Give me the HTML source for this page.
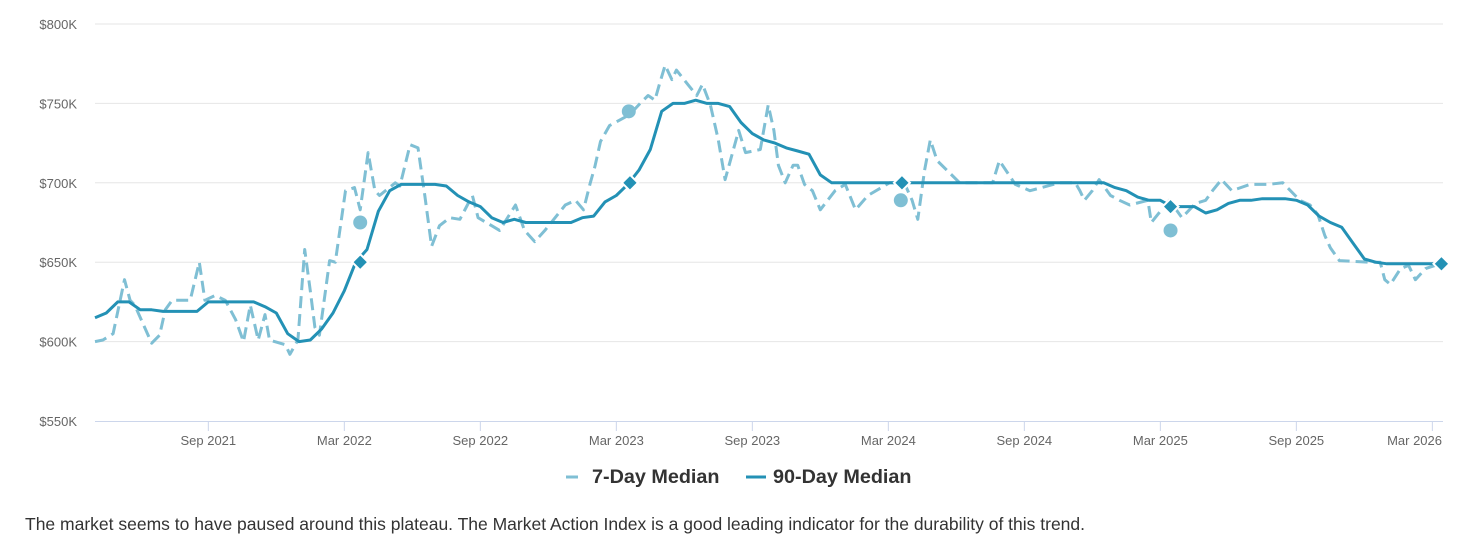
<!DOCTYPE html>
<html><head><meta charset="utf-8">
<style>
html,body{margin:0;padding:0;background:#fff;width:1482px;height:547px;overflow:hidden;font-family:"Liberation Sans",Arial,sans-serif;}
#foot{position:absolute;left:25px;top:514px;font-size:17.5px;color:#333;white-space:nowrap;}
</style></head>
<body>
<svg id="chart" width="1482" height="505" style="position:absolute;left:0;top:0"></svg>
<div id="foot">The market seems to have paused around this plateau. The Market Action Index is a good leading indicator for the durability of this trend.</div>
<script>
// months since Apr 2021
const yTicks=[550,600,650,700,750,800];
const xTickLabels=["Sep 2021","Mar 2022","Sep 2022","Mar 2023","Sep 2023","Mar 2024","Sep 2024","Mar 2025","Sep 2025","Mar 2026"];
const xTickMonths=[5,11,17,23,29,35,41,47,53,59];
const d90Values=[615,618,625,625,620,620,619,619,619,619,625,625,625,625,625,622,618,605,600,601,608,618,632,650,658,682,695,699,699,699,699,698,692,688,685,678,675,677,675,675,675,675,675,678,679,688,692,699,708,721,745,750,750,752,750,750,748,738,731,727,725,722,720,718,705,700,700,700,700,700,700,700,700,700,700,700,700,700,700,700,700,700,700,700,700,700,700,700,700,700,697,695,691,689,689,685,685,685,681,683,687,689,689,690,690,690,689,686,679,675,672,662,652,650,649,649,649,649,649,649];
const d7Months=[0,0.35,0.8,1.3,1.55,1.75,2.5,2.85,3.1,3.4,4.2,4.6,4.85,5.3,5.75,6.2,6.55,6.85,7.2,7.5,7.7,8.4,8.6,8.95,9.25,9.5,9.7,9.9,10.35,10.6,11.05,11.45,11.7,12.05,12.35,12.55,13.25,13.45,13.9,14.25,14.55,14.85,15.2,15.65,16.1,16.65,16.9,17.5,17.85,18.55,18.95,19.4,19.85,20.75,21.2,21.55,21.85,22.05,22.3,22.7,23.6,24.05,24.4,24.7,24.9,25.15,25.45,25.65,26.15,26.55,26.8,27.15,27.5,27.8,28.4,28.7,29.35,29.7,29.95,30.15,30.45,30.8,31.0,31.3,31.65,32.0,32.65,33.1,33.55,34.1,35.05,35.7,36.05,36.3,36.6,36.85,37.15,38.15,39.25,39.6,39.9,40.6,41.25,42.55,43.25,43.45,43.65,44.0,44.3,44.8,45.2,45.65,46.45,46.6,47.05,47.4,47.95,48.55,49.0,49.3,49.7,50.15,50.95,51.75,52.4,53.15,53.6,53.95,54.25,54.5,54.9,56.25,56.7,56.9,57.15,57.6,57.95,58.25,58.7,59.35];
const d7Values=[600,601,605,639,626,623,599,604,620,626,626,650,626,629,626,614,600,623,601,617,601,598,592,601,658,632,609,604,651,650,695,697,683,719,695,692,700,698,724,722,692,660,673,678,677,692,678,673,670,686,670,663,670,686,689,683,700,710,726,736,743,750,755,752,762,774,765,771,762,755,762,749,727,702,733,719,721,749,733,711,700,711,711,699,695,683,695,699,683,692,700,700,689,677,708,727,714,700,700,700,714,699,695,700,700,695,689,695,702,692,689,686,689,675,683,689,678,687,689,695,702,695,699,699,700,689,686,680,667,659,651,650,650,639,636,646,648,639,646,649,649];
const circleMonths=[11.7,23.55,35.55,47.45];
const circleValues=[675,745,689,670];
const diamondMonths=[11.7,23.6,35.6,47.45,59.4];
const diamondValues=[650,700,700,685,649];

const NS="http://www.w3.org/2000/svg";
const svg=document.getElementById('chart');
const X0=95,X1=1443,Y0=421,Y1=24;
const x=m=>X0+m*22.667;
const y=v=>Y0-(v-550)/250*(Y0-Y1);
function mk(t,a){const e=document.createElementNS(NS,t);for(const k in a)e.setAttribute(k,a[k]);svg.appendChild(e);return e;}

yTicks.forEach(v=>{
  if(v>550){const g=mk('line',{x1:X0,x2:X1,y1:y(v),y2:y(v),stroke:'#e6e6e6','stroke-width':1});
  
  }
  const t=mk('text',{x:77,y:y(v)+5,'text-anchor':'end','font-size':13,fill:'#666'});
  t.textContent='$'+v+'K';
  
  
});
const ax=mk('line',{x1:X0,x2:X1,y1:Y0+0.5,y2:Y0+0.5,stroke:'#ccd6eb','stroke-width':1});


xTickLabels.forEach((l,i)=>{
  const px=x(xTickMonths[i]);
  const tk=mk('line',{x1:px,x2:px,y1:Y0,y2:Y0+10,stroke:'#ccd6eb','stroke-width':1});
  
  
  const last=i===xTickLabels.length-1;
  const t=mk('text',{x:last?X1-1:px,y:445,'text-anchor':last?'end':'middle','font-size':13,fill:'#666'});
  t.textContent=l;
  
  
});

const p7=d7Months.map((m,i)=>x(m).toFixed(1)+','+y(d7Values[i]).toFixed(1)).join(' ');
const s7=mk('polyline',{points:p7,fill:'none',stroke:'#7fbfd4','stroke-width':3,'stroke-dasharray':'12,6','stroke-linejoin':'round'});


const p90=d90Values.map((v,i)=>x(i*0.5).toFixed(1)+','+y(v).toFixed(1)).join(' ');
const s90=mk('polyline',{points:p90,fill:'none',stroke:'#2391b5','stroke-width':3,'stroke-linejoin':'round'});



circleMonths.forEach((m,i)=>{
  const c=mk('circle',{cx:x(m),cy:y(circleValues[i]),r:7,fill:'#7fbfd4'});
  
  
});
diamondMonths.forEach((m,i)=>{
  const cx=x(m),cy=y(diamondValues[i]);
  const d=mk('polygon',{points:`${cx},${cy-8} ${cx+8},${cy} ${cx},${cy+8} ${cx-8},${cy}`,fill:'#2391b5',stroke:'#fff','stroke-width':2});
  
  
});

const l1=mk('line',{x1:566,x2:578,y1:477,y2:477,stroke:'#7fbfd4','stroke-width':3});


const t1=mk('text',{x:592,y:483,'font-size':19.8,'font-weight':'bold',fill:'#333'});
t1.textContent='7-Day Median';


const l2=mk('line',{x1:746,x2:766,y1:477,y2:477,stroke:'#2391b5','stroke-width':3});


const t2=mk('text',{x:773,y:483,'font-size':19.8,'font-weight':'bold',fill:'#333'});
t2.textContent='90-Day Median';


</script>
</body></html>
